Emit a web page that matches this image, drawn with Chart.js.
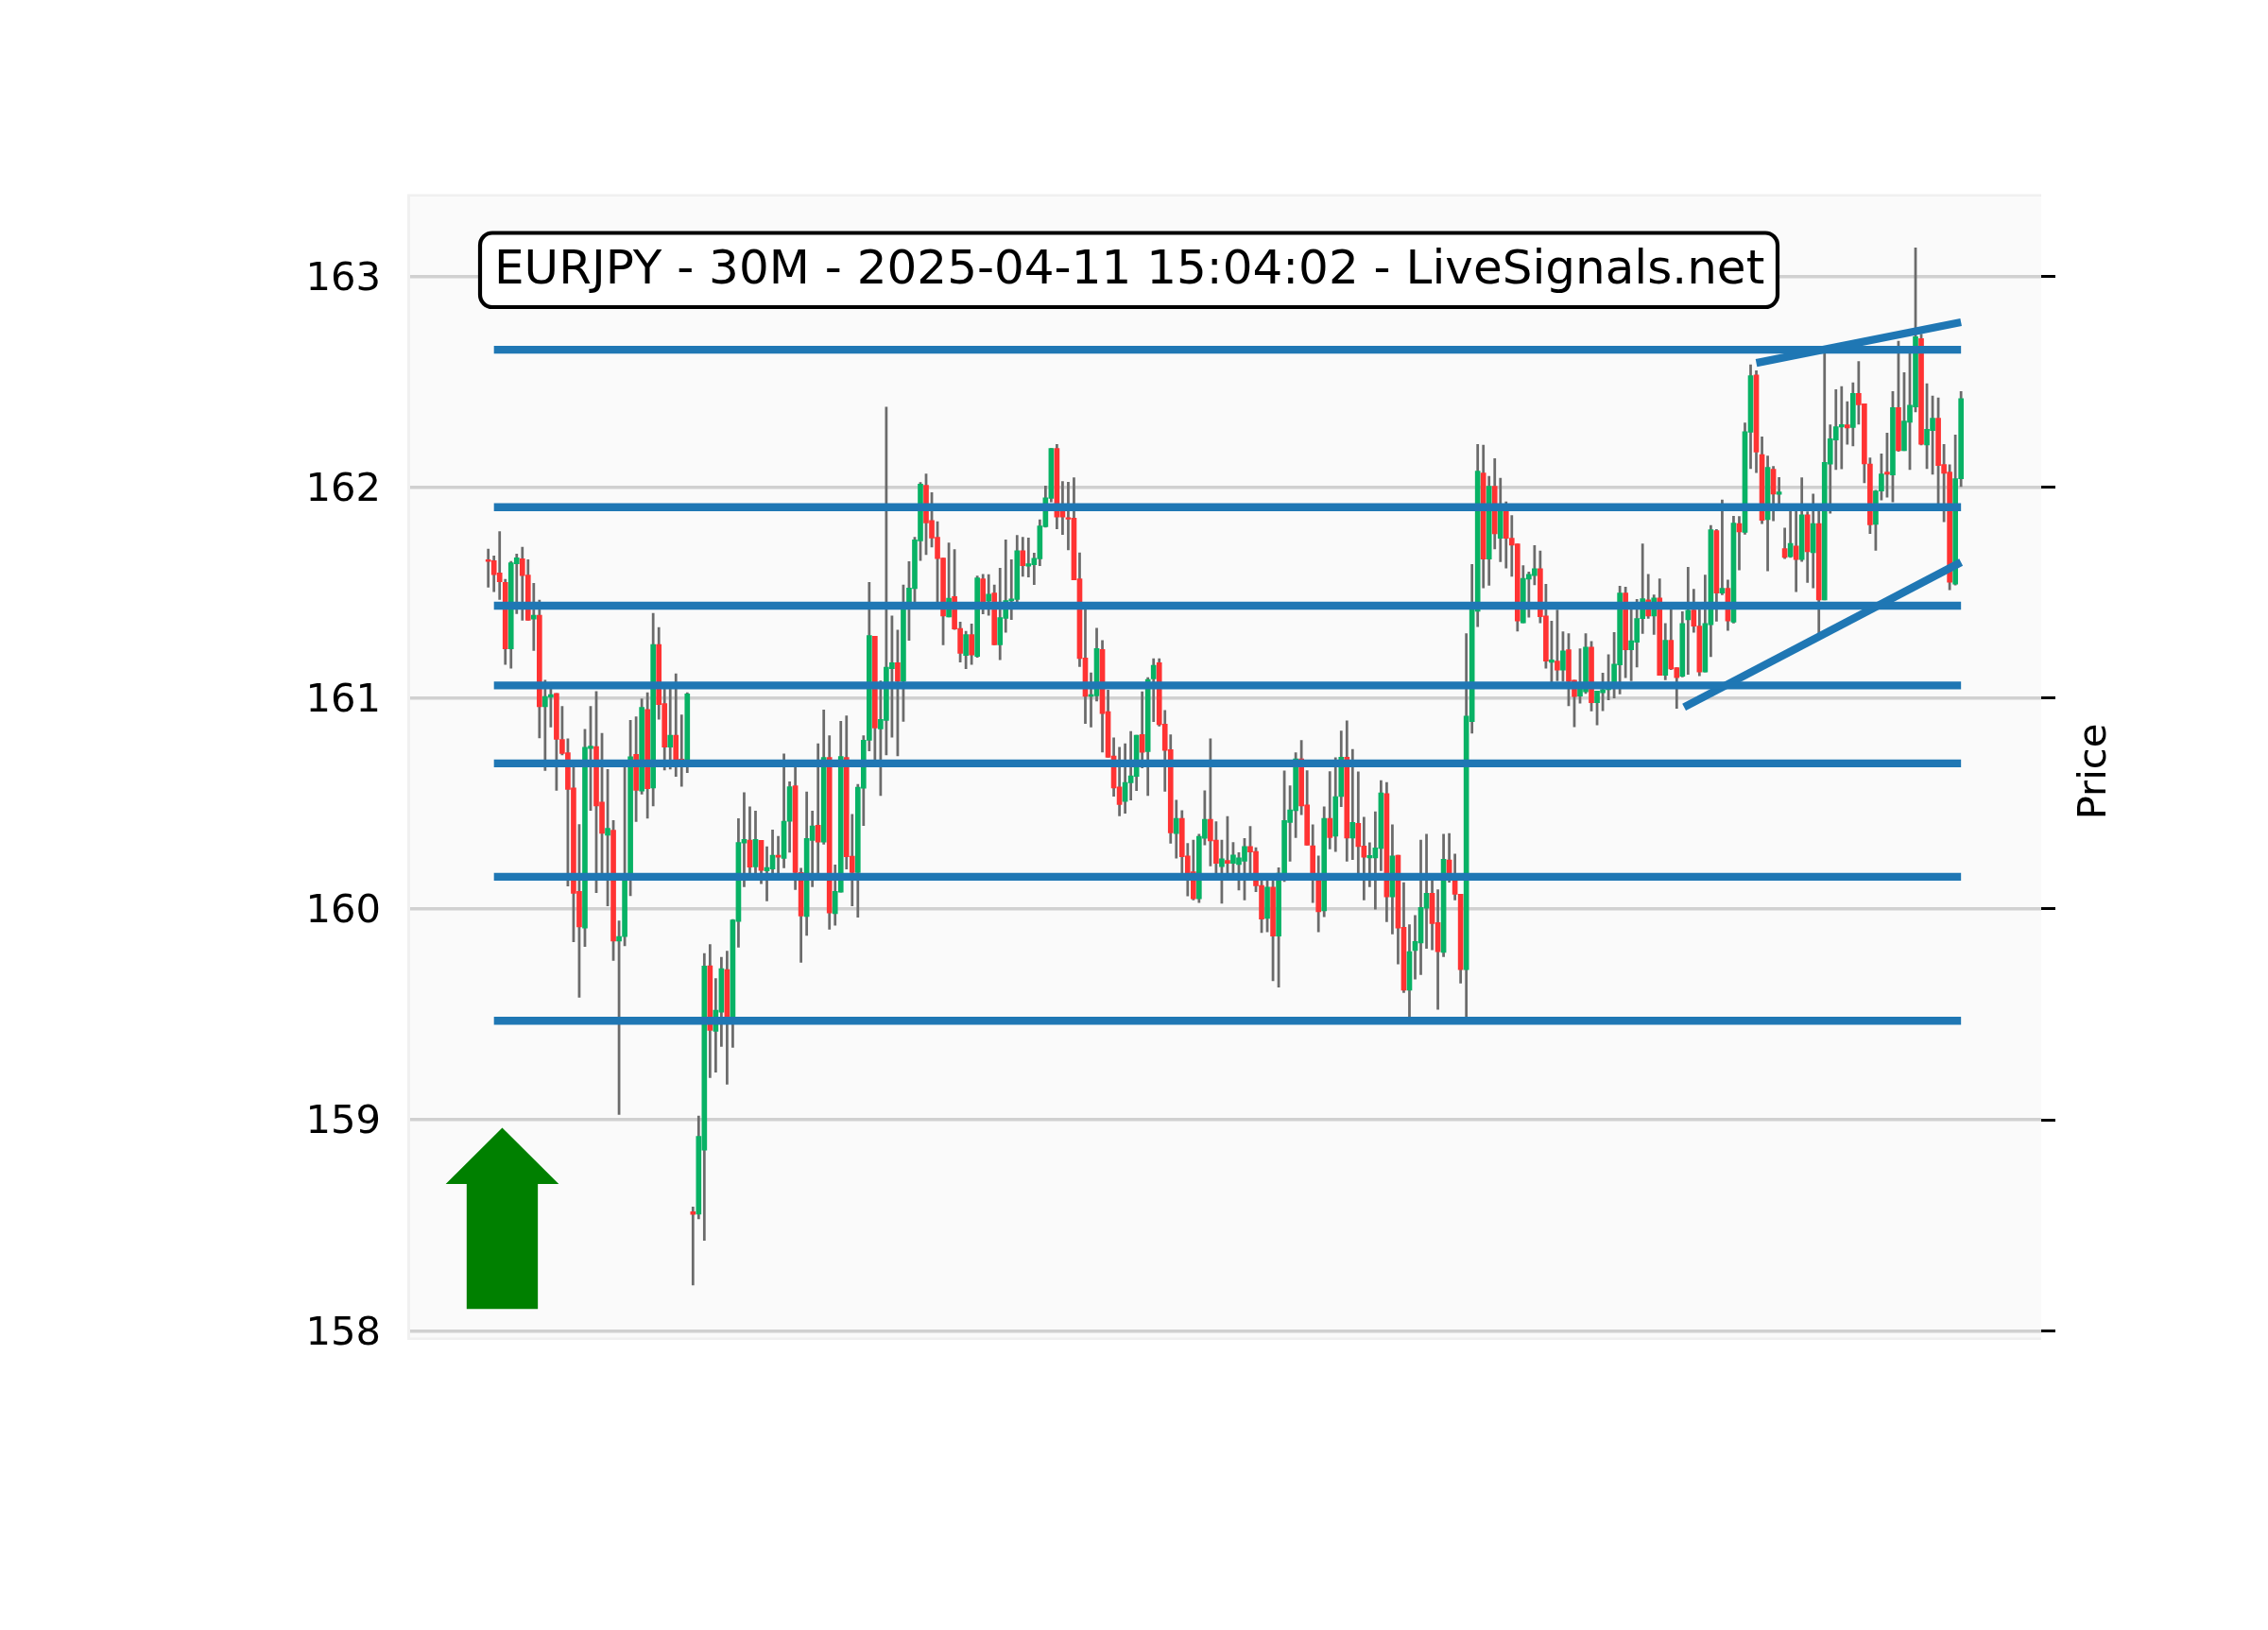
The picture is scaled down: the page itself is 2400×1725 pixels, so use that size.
<!DOCTYPE html>
<html>
<head>
<meta charset="utf-8">
<style>
  html, body { margin: 0; padding: 0; background: #ffffff; }
  canvas { display: block; }
</style>
<script src="https://cdn.jsdelivr.net/npm/chart.js@4"></script>
</head>
<body>
<canvas id="priceChart" width="2400" height="1725"></canvas>
<script>
const opens = [
  161.656,161.652,161.593,161.548,161.233,161.637,161.661,161.583,161.374,161.393,
  160.959,161.004,161.022,160.804,160.741,160.574,160.083,159.909,160.761,160.77,
  160.507,160.35,160.374,159.848,159.869,160.17,160.733,160.559,160.946,160.574,
  161.254,160.974,160.767,160.824,160.711,160.702,158.565,158.553,158.857,159.731,
  159.42,159.511,159.713,159.47,159.941,160.313,160.326,160.2,160.325,160.18,
  160.19,160.255,160.24,160.416,160.584,160.173,159.964,160.325,160.397,160.317,
  160.719,159.978,160.08,160.719,160.25,160.173,160.572,160.8,161.293,160.854,
  160.894,161.139,161.168,161.08,161.44,161.519,161.745,162.009,161.842,161.762,
  161.664,161.385,161.481,161.33,161.202,161.301,161.197,161.565,161.46,161.498,
  161.252,161.378,161.461,161.467,161.699,161.625,161.632,161.66,161.813,161.947,
  162.184,161.91,161.856,161.853,161.565,161.19,161.008,161.01,161.23,160.936,
  160.725,160.578,160.51,160.598,160.628,160.827,160.746,161.091,161.168,160.877,
  160.756,160.358,160.43,160.251,160.176,160.048,160.335,160.425,160.327,160.201,
  160.23,160.216,160.211,160.227,160.296,160.273,160.112,159.955,160.104,159.871,
  160.17,160.41,160.466,160.712,160.493,160.3,160.155,159.991,160.43,160.345,
  160.533,160.72,160.336,160.406,160.299,160.242,160.242,160.287,160.547,160.057,
  160.255,159.913,159.615,159.803,159.839,160.003,160.075,159.936,159.794,160.233,
  160.16,160.07,159.712,160.888,161.411,162.067,161.659,162.004,161.758,161.9,
  161.758,161.731,161.357,161.564,161.581,161.614,161.39,161.169,161.175,161.133,
  161.229,161.085,161.009,161.03,161.242,160.978,161.025,161.04,161.06,161.157,
  161.498,161.229,161.265,161.377,161.466,161.389,161.475,161.108,161.274,161.144,
  161.103,161.371,161.417,161.341,161.124,161.348,161.794,161.498,161.52,161.36,
  161.828,161.786,162.26,162.532,162.155,161.846,162.085,161.966,161.709,161.67,
  161.721,161.657,161.869,161.689,161.828,161.465,162.109,162.223,162.285,162.296,
  162.283,162.445,162.395,162.11,161.824,161.982,162.072,162.058,162.377,162.173,
  162.308,162.38,162.704,162.2,162.268,162.327,162.108,162.072,161.54,162.04
];
const highs = [
  161.707,161.674,161.789,161.563,161.648,161.683,161.715,161.656,161.544,161.465,
  161.085,161.044,161.022,160.961,160.807,160.683,160.4,160.852,160.961,161.031,
  160.833,160.661,160.419,159.943,160.674,160.894,160.911,160.996,161.026,161.402,
  161.335,161.044,161.044,161.115,160.92,161.026,158.587,159.018,159.789,159.831,
  159.67,159.771,159.8,159.95,160.428,160.552,160.485,160.464,160.325,160.295,
  160.375,160.344,160.735,160.603,160.671,160.193,160.555,160.464,160.783,160.944,
  160.822,160.209,160.89,160.916,160.449,160.591,160.822,161.548,161.293,161.082,
  162.38,161.389,161.322,161.536,161.647,161.762,162.022,162.063,161.974,161.836,
  161.664,161.736,161.704,161.36,161.317,161.351,161.579,161.587,161.586,161.536,
  161.616,161.75,161.656,161.772,161.762,161.759,161.687,161.845,162.005,162.184,
  162.203,162.027,162.024,162.045,161.688,161.42,161.12,161.331,161.273,161.038,
  160.811,160.767,160.783,160.842,160.824,161.03,161.097,161.187,161.187,160.941,
  160.826,160.516,160.466,160.311,160.327,160.355,160.561,160.807,160.414,160.327,
  160.439,160.315,160.267,160.334,160.391,160.291,160.16,160.14,160.14,160.195,
  160.655,160.584,160.741,160.799,160.656,160.399,160.252,160.485,160.651,160.717,
  160.844,160.892,160.757,160.65,160.435,160.314,160.461,160.609,160.6,160.399,
  160.255,160.125,159.925,159.969,160.327,160.354,160.14,160.091,160.354,160.358,
  160.261,160.07,161.306,161.634,162.203,162.199,162.051,162.136,162.042,161.93,
  161.865,161.731,161.628,161.598,161.723,161.697,161.54,161.365,161.418,161.314,
  161.306,161.085,161.234,161.306,161.268,161.033,161.118,161.206,161.311,161.531,
  161.526,161.42,161.468,161.731,161.587,161.489,161.565,161.354,161.419,161.144,
  161.41,161.62,161.516,161.42,161.583,161.818,161.8,161.939,161.56,161.862,
  161.861,162.305,162.58,162.552,162.238,162.148,162.099,162.046,161.806,161.885,
  161.885,162.045,161.883,161.967,161.885,162.66,162.296,162.462,162.477,162.405,
  162.495,162.596,162.395,162.139,161.985,162.158,162.256,162.454,162.692,162.543,
  162.634,163.135,162.726,162.49,162.432,162.423,162.203,162.106,162.248,162.454
];
const lows = [
  161.526,161.504,161.467,161.159,161.141,161.4,161.369,161.369,161.226,160.811,
  160.656,160.863,160.563,160.73,160.109,159.844,159.581,159.822,160.467,160.078,
  160.17,160.015,159.756,159.026,159.826,160.063,160.415,160.544,160.43,160.489,
  160.9,160.659,160.663,160.628,160.581,160.646,158.217,158.531,158.429,159.2,
  159.226,159.348,159.169,159.344,159.819,160.106,160.17,160.165,160.12,160.038,
  160.17,160.165,160.195,160.269,160.092,159.747,159.875,160.106,160.17,160.307,
  159.904,159.923,160.08,160.19,160.015,159.961,160.396,160.75,160.705,160.538,
  160.731,160.815,160.726,160.889,161.274,161.44,161.652,161.68,161.716,161.45,
  161.252,161.385,161.325,161.171,161.139,161.159,161.193,161.399,161.392,161.252,
  161.182,161.312,161.372,161.454,161.577,161.574,161.538,161.628,161.81,161.93,
  161.802,161.775,161.703,161.561,161.149,160.879,160.863,160.986,160.744,160.719,
  160.535,160.441,160.454,160.516,160.561,160.669,160.538,160.888,160.867,160.558,
  160.312,160.241,160.17,160.062,160.043,160.03,160.304,160.204,160.17,160.027,
  160.17,160.17,160.09,160.043,160.136,160.082,159.888,159.891,159.66,159.63,
  160.13,160.226,160.339,160.447,160.303,160.03,159.891,159.963,160.285,160.272,
  160.485,160.227,160.234,160.17,160.043,160.106,159.999,160.182,159.94,159.882,
  159.739,159.604,159.488,159.667,159.689,159.813,159.806,159.524,159.774,160.127,
  160.043,159.649,159.486,160.833,161.339,161.522,161.535,161.707,161.647,161.617,
  161.577,161.317,161.357,161.384,161.537,161.357,161.142,161.075,161.082,161.08,
  160.963,160.864,160.976,161.022,160.939,160.873,160.94,160.992,161.0,161.019,
  161.097,161.082,161.147,161.306,161.378,161.302,161.108,161.087,161.135,160.951,
  161.1,161.112,161.312,161.106,161.124,161.196,161.365,161.49,161.321,161.356,
  161.607,161.777,162.088,162.069,161.827,161.603,161.84,161.9,161.661,161.667,
  161.504,161.648,161.548,161.522,161.309,161.465,161.876,162.084,162.087,162.203,
  162.196,162.299,162.021,161.78,161.701,161.939,161.952,161.93,162.17,162.173,
  162.084,162.357,162.2,162.088,162.061,161.918,161.836,161.513,161.536,162.003
];
const closes = [
  161.648,161.585,161.552,161.233,161.641,161.665,161.581,161.369,161.393,160.959,
  161.007,161.017,160.804,160.737,160.567,160.074,159.915,160.767,160.772,160.489,
  160.359,160.383,159.848,159.869,160.16,160.722,160.563,160.956,160.57,161.254,
  160.969,160.767,160.824,160.689,160.689,161.02,158.552,158.922,159.729,159.425,
  159.52,159.717,159.47,159.948,160.315,160.33,160.198,160.33,160.183,160.197,
  160.255,160.245,160.416,160.58,160.173,159.967,160.334,160.394,160.317,160.719,
  159.981,160.084,160.723,160.248,160.173,160.577,160.8,161.296,160.858,160.899,
  161.146,161.168,161.08,161.44,161.522,161.75,162.015,161.83,161.759,161.661,
  161.389,161.474,161.327,161.212,161.301,161.204,161.57,161.455,161.493,161.252,
  161.382,161.462,161.47,161.699,161.628,161.637,161.663,161.816,161.95,162.184,
  161.858,161.858,161.848,161.561,161.187,161.008,161.016,161.235,160.927,160.719,
  160.574,160.495,160.6,160.631,160.824,160.743,161.088,161.155,160.874,160.752,
  160.361,160.43,160.248,160.17,160.048,160.345,160.425,160.323,160.216,160.238,
  160.216,160.256,160.243,160.296,160.27,160.11,159.952,160.104,159.871,160.17,
  160.42,160.47,160.712,160.488,160.303,160.16,159.987,160.43,160.339,160.533,
  160.72,160.336,160.411,160.296,160.246,160.254,160.29,160.551,160.057,160.251,
  159.91,159.615,159.798,159.846,160.007,160.075,159.931,159.798,160.236,160.165,
  160.07,159.712,160.915,161.437,162.076,161.659,162.004,161.779,161.905,161.758,
  161.725,161.366,161.568,161.587,161.614,161.386,161.175,161.181,161.133,161.224,
  161.079,161.007,161.06,161.242,160.978,161.033,161.04,161.06,161.161,161.498,
  161.229,161.272,161.377,161.471,161.389,161.475,161.108,161.274,161.138,161.097,
  161.354,161.416,161.341,161.124,161.354,161.798,161.498,161.52,161.366,161.83,
  161.788,162.263,162.529,162.166,161.843,162.094,161.967,161.977,161.667,161.733,
  161.657,161.869,161.694,161.828,161.465,162.117,162.229,162.287,162.297,162.281,
  162.445,162.39,162.11,161.821,161.982,162.063,162.061,162.377,162.173,162.314,
  162.389,162.713,162.203,162.274,162.327,162.103,162.066,161.549,162.04,162.42
];

// support / resistance levels, drawn from candle 1 to the last one
const levels = [162.652, 161.905, 161.438, 161.06, 160.69, 160.153, 159.47];
const levelStart = 1;
const levelEnd = 259;

// the two channel lines: [candle, price] at each end
const upperTrendX = [223, 259];
const upperTrendY = [162.589, 162.782];
const lowerTrendX = [210.3, 259];
const lowerTrendY = [160.957, 161.644];

// buy arrow outline in chart units
const arrowX = [-3.8, -3.8, -7.48, 2.46, 12.4, 8.72, 8.72];
const arrowY = [158.103, 158.696, 158.696, 158.963, 158.696, 158.696, 158.103];

const yTicks = [158, 159, 160, 161, 162, 163];
const titleText = 'EURJPY - 30M - 2025-04-11 15:04:02 - LiveSignals.net';
const axisLabel = 'Price';

const GREEN = '#08b265';
const RED = '#ff3333';
const WICK = '#6b6b6b';
const BLUE = '#1f77b4';
const FONT = '"DejaVu Sans"';

const indexes = opens.map((_, i) => i);

function levelDataset(value) {
    return {
        type: 'line',
        data: [{ x: levelStart, y: value }, { x: levelEnd, y: value }],
        borderColor: BLUE,
        borderWidth: 8.33,
        pointRadius: 0,
        order: 1
    };
}

function trendDataset(xs, ys) {
    return {
        type: 'line',
        data: xs.map((x, i) => ({ x: x, y: ys[i] })),
        borderColor: BLUE,
        borderWidth: 8.33,
        pointRadius: 0,
        order: 1
    };
}

// plot background and its pale frame
const backdrop = {
    id: 'backdrop',
    beforeDraw(chart) {
        const { ctx, chartArea: a } = chart;
        ctx.save();
        ctx.fillStyle = '#f0f0f0';
        ctx.fillRect(a.left - 3, a.top - 2.5, a.width + 3, a.height + 5);
        ctx.fillStyle = '#fafafa';
        ctx.fillRect(a.left, a.top, a.width, a.height);
        ctx.restore();
    }
};

// boxed title and the rotated axis label
const labels = {
    id: 'labels',
    afterDraw(chart) {
        const { ctx } = chart;
        ctx.save();
        ctx.beginPath();
        ctx.roundRect(508, 246.5, 1373, 78.5, 13);
        ctx.fillStyle = '#ffffff';
        ctx.fill();
        ctx.lineWidth = 4.2;
        ctx.strokeStyle = '#000000';
        ctx.stroke();
        ctx.fillStyle = '#000000';
        ctx.font = '50px ' + FONT;
        ctx.textAlign = 'left';
        ctx.textBaseline = 'alphabetic';
        ctx.fillText(titleText, 523, 299.5);

        ctx.translate(2228, 816.5);
        ctx.rotate(-Math.PI / 2);
        ctx.font = '41.67px ' + FONT;
        ctx.textAlign = 'center';
        ctx.fillText(axisLabel, 0, 0);
        ctx.restore();
    }
};

new Chart(document.getElementById('priceChart'), {
    data: {
        datasets: [
            {
                type: 'bar',
                data: indexes.map(i => ({ x: i, y: [lows[i], highs[i]] })),
                backgroundColor: WICK,
                barThickness: 2.1,
                grouped: false,
                order: 3
            },
            {
                type: 'bar',
                data: indexes.map(i => ({ x: i, y: [opens[i], closes[i]] })),
                backgroundColor: indexes.map(i => closes[i] >= opens[i] ? GREEN : RED),
                barThickness: 5,
                grouped: false,
                order: 2
            },
            ...levels.map(levelDataset),
            trendDataset(upperTrendX, upperTrendY),
            trendDataset(lowerTrendX, lowerTrendY),
            {
                type: 'line',
                data: arrowX.map((x, i) => ({ x: x, y: arrowY[i] })),
                fill: 'shape',
                backgroundColor: 'green',
                borderWidth: 0,
                pointRadius: 0,
                order: 0
            }
        ]
    },
    options: {
        responsive: false,
        devicePixelRatio: 1,
        animation: false,
        events: [],
        layout: { padding: { left: 0, right: 0, top: 208, bottom: 309.5 } },
        scales: {
            x: {
                type: 'linear',
                display: false,
                offset: false,
                min: -13.74,
                max: 273.1
            },
            y: {
                position: 'left',
                min: 157.968,
                max: 163.378,
                afterFit(scale) { scale.width = 434; },
                afterBuildTicks(scale) { scale.ticks = yTicks.map(v => ({ value: v })); },
                grid: { color: '#d0d0d0', lineWidth: 3.4, drawTicks: false },
                border: { display: false },
                ticks: {
                    color: '#000000',
                    padding: 31,
                    labelOffset: 3.5,
                    font: { family: FONT, size: 41.67 },
                    callback: v => String(v)
                }
            },
            // ticks only live on the right hand side
            yRight: {
                position: 'right',
                min: 157.968,
                max: 163.378,
                afterFit(scale) { scale.width = 240; },
                afterBuildTicks(scale) { scale.ticks = yTicks.map(v => ({ value: v })); },
                grid: { drawOnChartArea: false, drawTicks: true, tickLength: 15, tickColor: '#000000', tickWidth: 3 },
                border: { display: false },
                ticks: { display: false }
            }
        },
        plugins: { legend: { display: false }, tooltip: { enabled: false } }
    },
    plugins: [backdrop, labels]
});
</script>
</body>
</html>
